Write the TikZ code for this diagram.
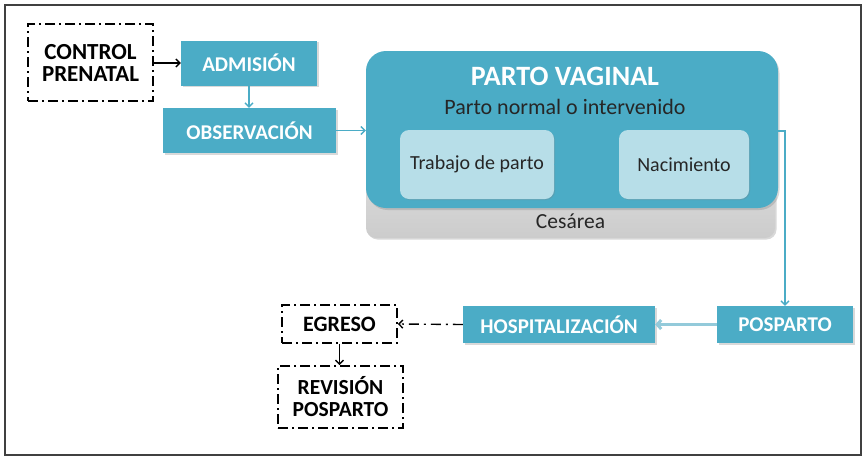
\documentclass[tikz,border=0pt]{standalone}
\usepackage{fontspec}
\setmainfont{Carlito}
\usetikzlibrary{arrows.meta,shadows}
\definecolor{teal1}{HTML}{4BACC6}
\definecolor{teallight}{HTML}{B7DEE8}
\definecolor{arrowlight}{HTML}{93CADA}
\definecolor{frame}{HTML}{404040}
\tikzset{
  tealbox/.style={draw=none,fill=teal1,inner sep=0pt,text=white,font=\bfseries\fontsize{21}{23}\selectfont,
    drop shadow={shadow xshift=1.5pt,shadow yshift=-1.5pt,opacity=0.3}},
  dashbox/.style={draw=black,line width=1.6pt,dash pattern=on 10pt off 4pt on 2pt off 4pt,inner sep=0pt,
    align=center,font=\bfseries\fontsize{22}{22}\selectfont},
  innerbox/.style={draw=none,fill=teallight,rounded corners=9pt,inner sep=0pt,
    font=\fontsize{20}{22}\selectfont,text=black!85,
    drop shadow={shadow xshift=1pt,shadow yshift=-1pt,opacity=0.25}},
  tarrow/.style={draw=teal1,line width=1.3pt,-{Straight Barb[length=4pt,width=8pt]}},
  karrow/.style={draw=black,line width=1.4pt,-{Straight Barb[length=4pt,width=8pt]}},
}
\begin{document}
\begin{tikzpicture}[x=1pt,y=-1pt]
\useasboundingbox (0,0) rectangle (867,461);
\draw[frame,line width=2pt] (5,5) rectangle (861,455);
% nodes
\node[dashbox,minimum width=125pt,minimum height=77pt,font=\bfseries\fontsize{23}{22}\selectfont] (ctrl) at (90.5,62.5) {CONTROL\\PRENATAL};
\node[tealbox,minimum width=136pt,minimum height=45pt] (adm) at (249,63) {ADMISIÓN};
\node[tealbox,minimum width=173pt,minimum height=45pt] (obs) at (249.5,130.5) {OBSERVACIÓN};
% cesarea and parto vaginal
\node[draw=none,rounded corners=10pt,top color=gray!8,bottom color=gray!40,minimum width=409pt,minimum height=178pt,inner sep=0pt,
  drop shadow={shadow xshift=1.5pt,shadow yshift=-1.5pt,opacity=0.3}] (ces) at (570.5,149) {};
\node[font=\fontsize{21.5}{22}\selectfont,text=black!85] (cestext) at (570.5,221) {Cesárea};
\node[draw=none,fill=teal1,rounded corners=20pt,minimum width=412pt,minimum height=157pt,inner sep=0pt,
  drop shadow={shadow xshift=1.5pt,shadow yshift=-2pt,opacity=0.3}] (parto) at (572,129.5) {};
\node[text=white,font=\bfseries\fontsize{28}{30}\selectfont] (ptitle) at (565,76) {PARTO VAGINAL};
\node[text=black!85,font=\fontsize{22}{24}\selectfont] (psub) at (565,107) {Parto normal o intervenido};
\node[innerbox,minimum width=154pt,minimum height=69pt] (trab) at (477,164.5) {Trabajo de parto};
\node[innerbox,minimum width=130pt,minimum height=69pt] (nac) at (684,164.5) {Nacimiento};
% bottom row
\node[tealbox,minimum width=136pt,minimum height=37pt] (posp) at (785,324.5) {POSPARTO};
\node[tealbox,minimum width=192pt,minimum height=37pt] (hosp) at (559,324.5) {HOSPITALIZACIÓN};
\node[dashbox,minimum width=115pt,minimum height=38pt] (egr) at (339.5,324) {EGRESO};
\node[dashbox,minimum width=125pt,minimum height=62pt,font=\bfseries\fontsize{21.5}{22}\selectfont] (rev) at (340.5,397) {REVISIÓN\\POSPARTO};
\coordinate (bend) at (785,131);
% connectors
\draw[karrow] (ctrl.east |- adm.west) -- (adm.west);
\draw[tarrow] (adm.south) -- (adm.south |- obs.north);
\draw[tarrow] (obs.east) -- (obs.east -| parto.west);
\draw[tarrow] (trab.east) -- (nac.west);
\draw[tarrow] (parto.east |- bend) -- (bend) -- (posp.north);
\draw[draw=arrowlight,line width=3pt,-{Straight Barb[length=4pt,width=9pt]}] (posp.west) -- (hosp.east);
\draw[karrow,dash pattern=on 10pt off 5pt on 2pt off 5pt] (hosp.west) -- (egr.east);
\draw[karrow] (egr.south) -- (egr.south |- rev.north);
\end{tikzpicture}
\end{document}
